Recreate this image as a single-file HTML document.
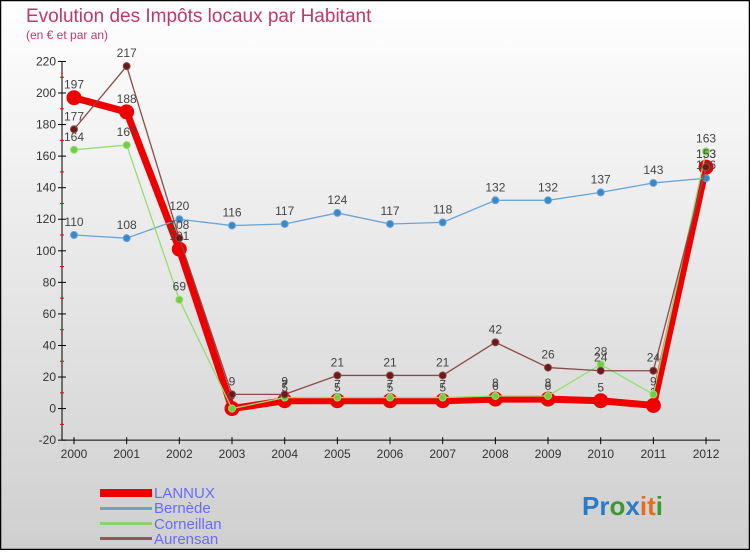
<!DOCTYPE html>
<html><head><meta charset="utf-8"><style>
html,body{margin:0;padding:0}
body{width:750px;height:550px;overflow:hidden;font-family:"Liberation Sans",sans-serif}
</style></head><body>
<svg width="750" height="550" xmlns="http://www.w3.org/2000/svg" id="svg">
<defs><linearGradient id="bg" x1="0" y1="0" x2="0" y2="1"><stop offset="0" stop-color="#ffffff"/><stop offset="1" stop-color="#cfcfcf"/></linearGradient></defs>
<rect x="0.5" y="0.5" width="749" height="549" fill="url(#bg)" stroke="#000" stroke-width="1.5"/>
<text x="26" y="22" font-size="19" fill="#c0386a">Evolution des Impôts locaux par Habitant</text>
<text x="26" y="39" font-size="12" fill="#c0386a">(en € et par an)</text>
<g id="axes"></g><g id="series"></g>
<g font-size="15" fill="#6a6aff">
<rect x="100" y="489" width="52" height="8" fill="#e00"/>
<text x="154" y="498" fill="#6a6aff">LANNUX</text>
<rect x="100" y="507" width="52" height="3" fill="#6fa0c8"/>
<text x="154" y="513" fill="#6a6aff">Bernède</text>
<rect x="100" y="522" width="52" height="3" fill="#90d070"/>
<text x="154" y="529" fill="#6a6aff">Corneillan</text>
<rect x="100" y="537" width="52" height="3" fill="#8a5a5a"/>
<text x="154" y="544" fill="#6a6aff">Aurensan</text>
</g>
<g font-size="26" font-weight="bold">
<text x="582" y="515"><tspan fill="#2a7cc8">Pr</tspan><tspan fill="#3a9a30">o</tspan><tspan fill="#2a7cc8">x</tspan><tspan fill="#e07020">i</tspan><tspan fill="#e07020">t</tspan><tspan fill="#3a9a30">i</tspan></text>
</g>
</svg>
<script>
const years=["2000","2001","2002","2003","2004","2005","2006","2007","2008","2009","2010","2011","2012"];
const yTicks=[-20,0,20,40,60,80,100,120,140,160,180,200,220];
const lannux=[197,188,101,0,5,5,5,5,6,6,5,2,153];
const bernede=[110,108,120,116,117,124,117,118,132,132,137,143,146];
const corneillan=[164,167,69,0,7,7,7,7,8,8,28,9,163];
const aurensan=[177,217,108,9,9,21,21,21,42,26,24,24,153];
const NS="http://www.w3.org/2000/svg";
const X=i=>74+i*52.67, Y=v=>408.6-v*1.578;
function mk(t,a,p){const e=document.createElementNS(NS,t);for(const k in a)e.setAttribute(k,a[k]);p.appendChild(e);return e;}
const ax=document.getElementById('axes');
const yl=mk('line',{x1:62,y1:Y(220),x2:62,y2:Y(-20),stroke:'#000'},ax);

const xl=mk('line',{x1:62,y1:Y(-20),x2:720,y2:Y(-20),stroke:'#000'},ax);

yTicks.forEach((v,i)=>{
 mk('line',{x1:58,y1:Y(v),x2:66,y2:Y(v),stroke:'#000'},ax);
 if(i<yTicks.length-1) mk('line',{x1:60,y1:Y(v+10),x2:64,y2:Y(v+10),stroke:'#e00'},ax);
 const t=mk('text',{x:56,y:Y(v)+4,'text-anchor':'end','font-size':12,fill:'#333'},ax);t.textContent=v;
 
});
years.forEach((y,i)=>{
 mk('line',{x1:X(i),y1:Y(-20)-3,x2:X(i),y2:Y(-20)+4,stroke:'#000'},ax);
 const t=mk('text',{x:X(i),y:Y(-20)+18,'text-anchor':'middle','font-size':12,fill:'#333'},ax);t.textContent=y;
 
});
const sg=document.getElementById('series');
function series(name,data,color,w,r,dot){
 const g=mk('g',{},sg);
 mk('polyline',{points:data.map((v,i)=>X(i)+','+Y(v)).join(' '),fill:'none',stroke:color,'stroke-width':w,'stroke-linejoin':'round'},g);
 data.forEach((v,i)=>{const c=mk('circle',{cx:X(i),cy:Y(v),r:r,fill:dot,stroke:color,'stroke-width':1},g);
  
  const t=mk('text',{x:X(i),y:Y(v)-9,'text-anchor':'middle','font-size':12,fill:'#444'},g);t.textContent=v;});
}
series('lannux',lannux,'#ee0000',7,7,'#ee0000');
series('bernede',bernede,'#6aa4d6',1.3,3.5,'#3a88c8');
series('corneillan',corneillan,'#98dc70',1.3,3.5,'#70d040');
series('aurensan',aurensan,'#8a4a4a',1.3,3.5,'#6a1a1a');
</script>
</body></html>
